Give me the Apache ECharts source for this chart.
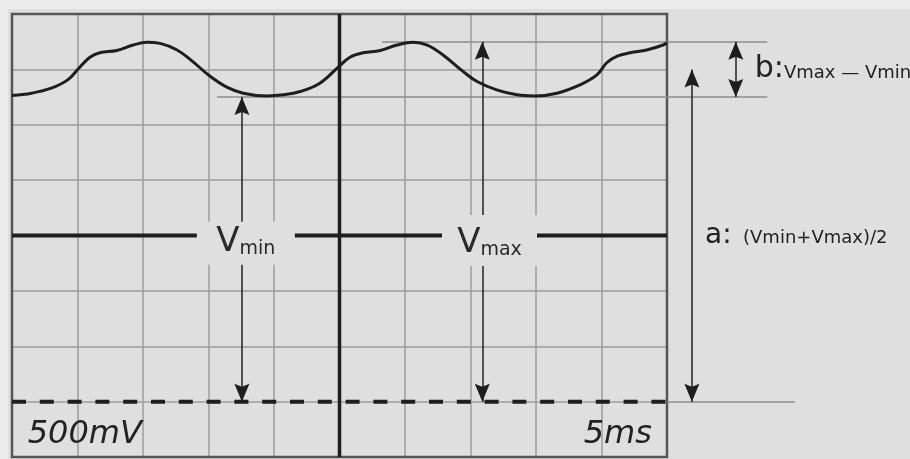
<!DOCTYPE html>
<html>
<head>
<meta charset="utf-8">
<script src="https://cdn.jsdelivr.net/npm/echarts@6/dist/echarts.min.js"></script>
<style>
html, body { margin: 0; padding: 0; background: #ececec; }
#chart { position: absolute; left: 8px; top: 9px; width: 902px; height: 450px; }
</style>
</head>
<body>
<div id="chart"></div>
<script>
// screen in divisions: 10 across, -4..4 up/down
const waveX = [0, 0.3, 0.6, 0.85, 1.02, 1.19, 1.34, 1.6, 1.85, 2.06, 2.26, 2.52, 2.76, 3.02, 3.28, 3.53, 3.89, 4.14, 4.4, 4.7,
  4.99, 5.16, 5.36, 5.62, 5.88, 6.12, 6.34, 6.58, 6.89, 7.1, 7.4, 7.71, 7.98, 8.32, 8.67, 8.93, 9.08, 9.24, 9.44, 9.69, 9.94, 10]
const waveY = [2.53, 2.57, 2.66, 2.81, 3.02, 3.22, 3.3, 3.34, 3.44, 3.49, 3.47, 3.35, 3.14, 2.88, 2.68, 2.57, 2.52, 2.54, 2.6, 2.75,
  3.05, 3.22, 3.3, 3.34, 3.44, 3.49, 3.44, 3.26, 2.96, 2.78, 2.63, 2.54, 2.52, 2.57, 2.72, 2.9, 3.12, 3.24, 3.3, 3.35, 3.44, 3.48]

const groundLevel = -3
const traceCenter = 5

// thin reference lines (Vmax, Vmin, ground)
const guideY = [3.5, 2.5, -3]
const guideFrom = [5.65, 3.13, 10]
const guideTo = [11.53, 11.53, 11.95]

// measuring arrows: Vmin, Vmax, a, b
const arrowX = [3.51, 7.18, 10.38, 11.05]
const arrowTop = [2.5, 3.5, 3.0, 3.5]
const arrowBottom = [-3, -3, -3, 2.5]

// boxed labels on the centre line
const boxX = [3.57, 7.29]
const boxY = [-0.14, -0.09]
const boxSub = ['min', 'max']

const font = 'DejaVu Sans'
const ink = '#1e1e1e'
const arrowHead = 'path://M0,0L7,18L0,15L-7,18Z'

const chart = echarts.init(document.getElementById('chart'))

const xy = (xs, ys) => xs.map((x, i) => [x, ys[i]])

// box sizes differ a bit between the two labels
const boxLabel = (h, padBottom) => ({
  height: h,
  padding: [0, 0, padBottom, 0],
  rich: {
    v: { fontFamily: font, fontSize: 34, color: '#2a2a2a', lineHeight: h, verticalAlign: 'bottom' },
    s: { fontFamily: font, fontSize: 19, color: '#2a2a2a', lineHeight: h, verticalAlign: 'bottom' }
  }
})

const option = {
  animation: false,
  backgroundColor: '#dfdfdf',
  grid: [
    { left: 4, top: 5, width: 655, height: 443, show: true, z: 1, borderColor: '#555', borderWidth: 2.5, outerBoundsMode: 'none' },
    { left: 4, top: 5, width: 65.5 * 13.7, height: 443, outerBoundsMode: 'none' }
  ],
  xAxis: [
    {
      gridIndex: 0, type: 'value', min: 0, max: 10, interval: 1,
      axisLine: { show: false }, axisTick: { show: false }, axisLabel: { show: false },
      splitLine: { show: true, lineStyle: { color: '#9c9c9c', width: 1.5 } }
    },
    { gridIndex: 1, type: 'value', min: 0, max: 13.7, show: false }
  ],
  yAxis: [
    {
      gridIndex: 0, type: 'value', min: -4, max: 4, interval: 1,
      axisLine: { show: false }, axisTick: { show: false }, axisLabel: { show: false },
      splitLine: { show: true, lineStyle: { color: '#9c9c9c', width: 1.5 } }
    },
    { gridIndex: 1, type: 'value', min: -4, max: 4, show: false }
  ],
  series: [
    {
      type: 'lines', coordinateSystem: 'cartesian2d', xAxisIndex: 1, yAxisIndex: 1, z: 3,
      lineStyle: { color: '#8c8c8c', width: 1.5, opacity: 1 },
      data: guideY.map((y, i) => ({ coords: [[guideFrom[i], y], [guideTo[i], y]] }))
    },
    {
      type: 'line', xAxisIndex: 1, yAxisIndex: 1, z: 4, symbol: 'none', clip: false,
      lineStyle: { color: ink, width: 4 },
      data: [[0, 0], [10, 0]]
    },
    {
      type: 'line', xAxisIndex: 1, yAxisIndex: 1, z: 4, symbol: 'none', clip: false,
      lineStyle: { color: ink, width: 3.5 },
      data: [[traceCenter, -4], [traceCenter, 4]]
    },
    {
      type: 'line', xAxisIndex: 1, yAxisIndex: 1, z: 4, symbol: 'none', clip: false,
      lineStyle: { color: ink, width: 4, type: [14, 13.8] },
      data: [[0, groundLevel], [10, groundLevel]]
    },
    {
      type: 'line', xAxisIndex: 1, yAxisIndex: 1, z: 5, symbol: 'none', clip: false,
      smooth: 0.4,
      lineStyle: { color: ink, width: 3 },
      data: xy(waveX, waveY)
    },
    {
      type: 'lines', coordinateSystem: 'cartesian2d', xAxisIndex: 1, yAxisIndex: 1, z: 5,
      lineStyle: { color: '#222', width: 1.5, opacity: 1 },
      data: arrowX.map((x, i) => ({ coords: [[x, arrowBottom[i]], [x, arrowTop[i]]] }))
    },
    {
      type: 'scatter', xAxisIndex: 1, yAxisIndex: 1, z: 6,
      symbol: arrowHead, symbolSize: [15, 18], symbolOffset: [0, 9],
      itemStyle: { color: ink, opacity: 1 },
      data: xy(arrowX, arrowTop)
    },
    {
      type: 'scatter', xAxisIndex: 1, yAxisIndex: 1, z: 6,
      symbol: arrowHead, symbolSize: [15, 18], symbolOffset: [0, -9], symbolRotate: 180,
      itemStyle: { color: ink, opacity: 1 },
      data: xy(arrowX, arrowBottom)
    },
    {
      type: 'scatter', xAxisIndex: 1, yAxisIndex: 1, z: 10, symbolSize: 0,
      itemStyle: { opacity: 1 },
      label: {
        show: true, position: 'inside',
        formatter: p => `{v|V}{s|${boxSub[p.dataIndex]}}`,
        backgroundColor: '#dfdfdf', width: 98, align: 'center', verticalAlign: 'middle'
      },
      data: [
        { value: [boxX[0], boxY[0]], label: boxLabel(37, 6) },
        { value: [boxX[1], boxY[1]], label: Object.assign(boxLabel(45, 6), { width: 95 }) }
      ]
    },
    {
      type: 'scatter', xAxisIndex: 1, yAxisIndex: 1, z: 10, symbolSize: 0,
      itemStyle: { opacity: 1 },
      label: {
        show: true, position: 'inside', align: 'left', verticalAlign: 'middle',
        formatter: p => p.dataIndex === 0 ? '{big|b:}{small|Vmax — Vmin}' : '{big|a:}{small|  (Vmin+Vmax)/2}',
        rich: {
          big: { fontFamily: font, fontSize: 30, color: '#222', verticalAlign: 'bottom' },
          small: { fontFamily: font, fontSize: 18, color: '#222', verticalAlign: 'bottom', padding: [0, 0, 2, 0] }
        }
      },
      data: [
        [11.34, 3.0],
        { value: [10.58, 0.0], label: { rich: { big: { fontSize: 28 } } } }
      ]
    },
    {
      type: 'scatter', xAxisIndex: 1, yAxisIndex: 1, z: 10, symbolSize: 0,
      itemStyle: { opacity: 1 },
      label: {
        show: true, position: 'inside', verticalAlign: 'middle',
        fontFamily: font, fontSize: 32, fontStyle: 'italic', color: '#222',
        formatter: p => p.dataIndex === 0 ? '500mV' : '5ms'
      },
      data: [
        { value: [0.24, -3.6], label: { align: 'left' } },
        { value: [9.77, -3.6], label: { align: 'right' } }
      ]
    }
  ]
}

chart.setOption(option)
</script>
</body>
</html>
